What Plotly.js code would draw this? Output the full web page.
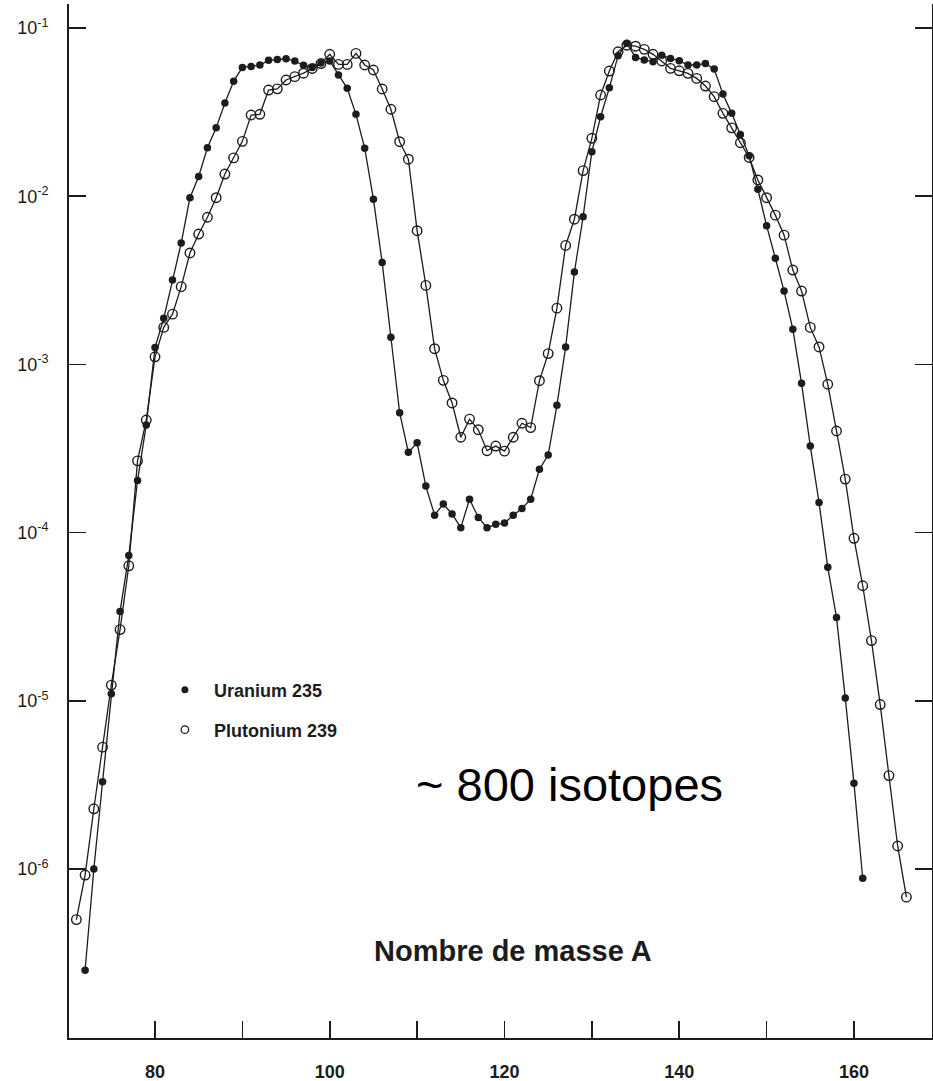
<!DOCTYPE html>
<html>
<head>
<meta charset="utf-8">
<script src="https://cdn.plot.ly/plotly-3.0.1.min.js"></script>
<style>
  html, body { margin: 0; padding: 0; background: #ffffff; }
  #chart { width: 933px; height: 1081px; }
</style>
</head>
<body>
<div id="chart"></div>
<script>
// Mass number A for each series
const massU235 = [72,73,74,75,76,77,78,79,80,81,82,83,84,85,86,87,88,89,90,91,92,93,94,95,96,97,98,99,100,
  101,102,103,104,105,106,107,108,109,110,111,112,113,114,115,116,117,118,119,120,121,122,123,124,125,126,127,128,129,130,
  131,132,133,134,135,136,137,138,139,140,141,142,143,144,145,146,147,148,149,150,151,152,153,154,155,156,157,158,159,160,161];
const yieldU235 = [2.5e-7,1.0e-6,3.3e-6,1.1e-5,3.4e-5,7.3e-5,2.04e-4,4.37e-4,1.26e-3,1.88e-3,3.18e-3,5.27e-3,9.8e-3,1.31e-2,1.94e-2,2.55e-2,3.58e-2,4.82e-2,5.83e-2,5.91e-2,6.03e-2,6.43e-2,6.51e-2,6.57e-2,6.37e-2,6.0e-2,5.83e-2,6.2e-2,6.37e-2,
  5.26e-2,4.38e-2,3.07e-2,1.93e-2,9.6e-3,4.03e-3,1.45e-3,5.16e-4,3.0e-4,3.42e-4,1.89e-4,1.27e-4,1.48e-4,1.29e-4,1.07e-4,1.58e-4,1.23e-4,1.07e-4,1.12e-4,1.14e-4,1.27e-4,1.39e-4,1.58e-4,2.38e-4,2.89e-4,5.71e-4,1.27e-3,3.54e-3,7.55e-3,1.84e-2,
  2.97e-2,4.41e-2,6.85e-2,8.11e-2,6.69e-2,6.46e-2,6.31e-2,6.9e-2,6.6e-2,6.4e-2,6.03e-2,6.03e-2,6.16e-2,5.7e-2,4.05e-2,3.11e-2,2.33e-2,1.74e-2,1.10e-2,6.68e-3,4.28e-3,2.73e-3,1.62e-3,7.72e-4,3.27e-4,1.51e-4,6.22e-5,3.13e-5,1.04e-5,3.23e-6,8.8e-7];

const massPu239 = [71,72,73,74,75,76,77,78,79,80,81,82,83,84,85,86,87,88,89,90,91,92,93,94,95,96,97,98,99,100,
  101,102,103,104,105,106,107,108,109,110,111,112,113,114,115,116,117,118,119,120,121,122,123,124,125,126,127,128,129,130,
  131,132,133,134,135,136,137,138,139,140,141,142,143,144,145,146,147,148,149,150,151,152,153,154,155,156,157,158,159,160,
  161,162,163,164,165,166];
const yieldPu239 = [5.0e-7,9.2e-7,2.28e-6,5.3e-6,1.24e-5,2.65e-5,6.35e-5,2.67e-4,4.67e-4,1.11e-3,1.66e-3,1.99e-3,2.9e-3,4.6e-3,5.96e-3,7.5e-3,9.8e-3,1.355e-2,1.69e-2,2.12e-2,3.04e-2,3.07e-2,4.28e-2,4.35e-2,4.91e-2,5.14e-2,5.39e-2,5.75e-2,6.15e-2,6.98e-2,
  6.08e-2,6.08e-2,7.07e-2,6.03e-2,5.63e-2,4.34e-2,3.29e-2,2.11e-2,1.66e-2,6.24e-3,2.95e-3,1.24e-3,8.04e-4,5.9e-4,3.69e-4,4.73e-4,4.09e-4,3.07e-4,3.27e-4,3.05e-4,3.69e-4,4.47e-4,4.21e-4,8.0e-4,1.16e-3,2.16e-3,5.1e-3,7.3e-3,1.42e-2,2.21e-2,
  4.0e-2,5.55e-2,7.23e-2,7.9e-2,7.8e-2,7.47e-2,6.98e-2,6.37e-2,5.76e-2,5.57e-2,5.38e-2,5.02e-2,4.52e-2,3.91e-2,3.11e-2,2.55e-2,2.08e-2,1.7e-2,1.25e-2,9.8e-3,7.72e-3,5.87e-3,3.64e-3,2.73e-3,1.66e-3,1.27e-3,7.62e-4,4.02e-4,2.08e-4,9.25e-5,
  4.83e-5,2.28e-5,9.5e-6,3.59e-6,1.37e-6,6.8e-7];

const seriesNames = ["Uranium 235", "Plutonium 239"];
const xTickVals = [80,100,120,140,160];
const xTickText = ["80","100","120","140","160"];
const xMinorTickVals = [90,110,130,150];
const yTickVals = [1e-1,1e-2,1e-3,1e-4,1e-5,1e-6];
const yTickText = ["10<sup>-1</sup>","10<sup>-2</sup>","10<sup>-3</sup>","10<sup>-4</sup>","10<sup>-5</sup>","10<sup>-6</sup>"];
const xAxisTitle = "Nombre de masse A";
const noteText = "~ 800 isotopes";

const ink = "#1c1c1c";
const fontFam = "Liberation Sans, Arial, Helvetica, sans-serif";

const traces = [
  {
    x: massU235, y: yieldU235, type: "scatter", mode: "lines+markers",
    name: seriesNames[0], showlegend: false,
    line: { color: ink, width: 1.3 },
    marker: { symbol: "circle", size: 7.5, color: ink }
  },
  {
    x: massPu239, y: yieldPu239, type: "scatter", mode: "lines+markers",
    name: seriesNames[1], showlegend: false,
    line: { color: ink, width: 1.3 },
    marker: { symbol: "circle-open", size: 9.5, color: ink, line: { width: 1.4, color: ink } }
  },
  {
    x: [null], y: [null], type: "scatter", mode: "markers", name: seriesNames[0],
    legend: "legend", marker: { symbol: "circle", size: 7, color: ink }
  },
  {
    x: [null], y: [null], type: "scatter", mode: "markers", name: seriesNames[1],
    legend: "legend2", marker: { symbol: "circle-open", size: 7.5, color: ink, line: { width: 1.3, color: ink } }
  }
];

const legendCommon = {
  xanchor: "left", yanchor: "middle", bgcolor: "rgba(0,0,0,0)",
  borderwidth: 0, itemwidth: 48,
  font: { family: fontFam, size: 18, color: ink, weight: "bold" }
};

const layout = {
  width: 933, height: 1081,
  margin: { l: 69, r: 1, t: 4, b: 43, pad: 0 },
  paper_bgcolor: "#ffffff", plot_bgcolor: "#ffffff",
  showlegend: true,
  xaxis: {
    range: [70.157, 168.93],
    tickmode: "array", tickvals: xTickVals, ticktext: xTickText,
    ticks: "inside", ticklen: 17, tickwidth: 1.6, tickcolor: ink,
    minor: { tickmode: "array", tickvals: xMinorTickVals, ticks: "inside", ticklen: 17, tickwidth: 1.6, tickcolor: ink, showgrid: false },
    showline: true, linewidth: 2, linecolor: ink, mirror: false,
    showgrid: false, zeroline: false,
    ticklabelstandoff: 16,
    tickfont: { family: fontFam, size: 18, color: ink, weight: "bold" }
  },
  yaxis: {
    type: "log", range: [-7.005, -0.857],
    tickmode: "array", tickvals: yTickVals, ticktext: yTickText,
    ticks: "inside", ticklen: 17, tickwidth: 1.6, tickcolor: ink,
    showline: true, linewidth: 2, linecolor: ink, mirror: "ticks",
    showgrid: false, zeroline: false,
    ticklabelstandoff: 15,
    tickfont: { family: fontFam, size: 18, color: ink }
  },
  legend: Object.assign({ x: 0.1007, y: 0.3366 }, legendCommon),
  legend2: Object.assign({ x: 0.1007, y: 0.2979 }, legendCommon),
  annotations: [
    {
      text: noteText, xref: "paper", yref: "paper",
      x: 0.5805, y: 0.2455, xanchor: "center", yanchor: "middle", showarrow: false,
      font: { family: fontFam, size: 47, color: "#000000" }
    },
    {
      text: xAxisTitle, xref: "paper", yref: "paper",
      x: 0.5145, y: 0.0840, xanchor: "center", yanchor: "middle", showarrow: false,
      font: { family: fontFam, size: 29, color: ink, weight: "bold" }
    }
  ]
};

Plotly.newPlot("chart", traces, layout, { staticPlot: true, displayModeBar: false });
</script>
</body>
</html>
